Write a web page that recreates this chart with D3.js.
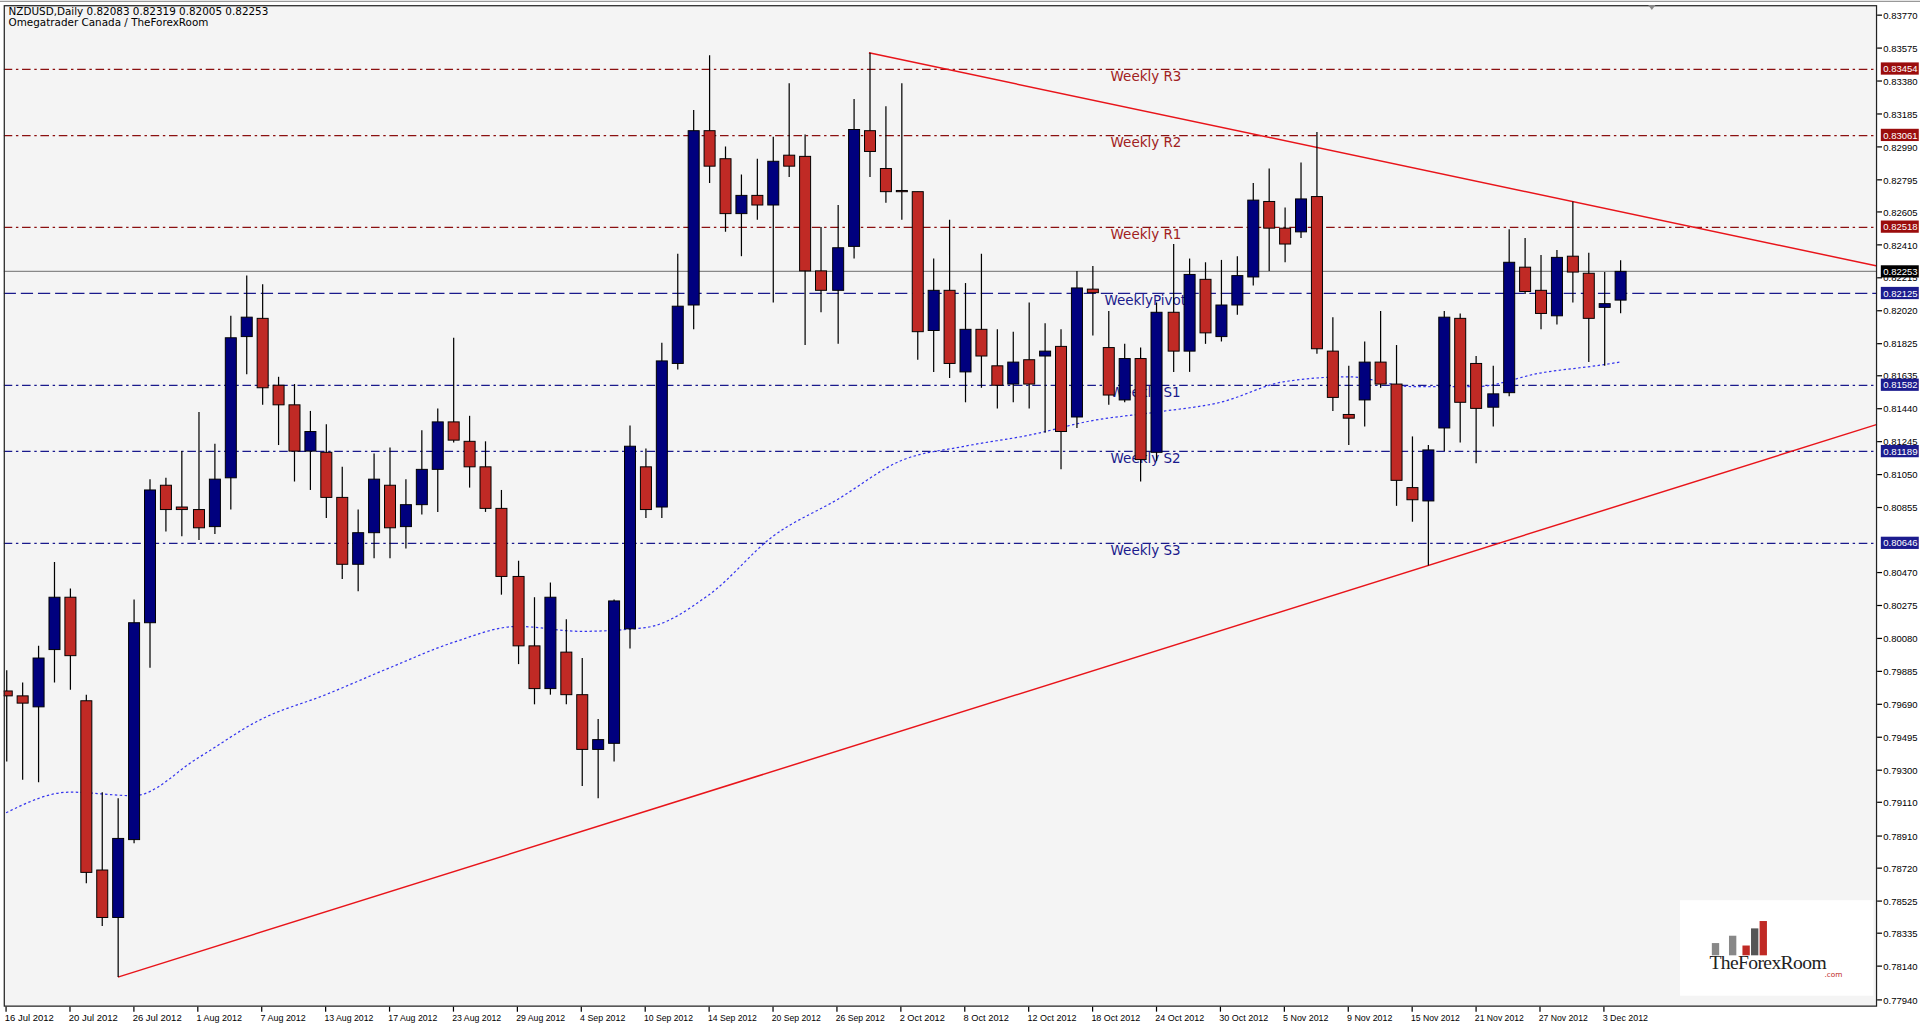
<!DOCTYPE html>
<html><head><meta charset="utf-8">
<script src="https://cdn.jsdelivr.net/npm/d3@7"></script>
<style>html,body{margin:0;padding:0;background:#fff;overflow:hidden}</style>
</head><body>
<svg id="c" width="1920" height="1029" viewBox="0 0 1568 840"></svg>
<script>
// Daily bars, 16 Jul 2012 (index 0) to 4 Dec 2012, prices in pips (x 1e-5)
const opens  = [79769,79740,79675,80014,80324,79711,78709,78428,78889,80173,80987,80858,80843,80742,81031,81867,81975,81579,81463,81189,81182,80915,80519,80706,80987,80742,80872,81081,81362,81247,81096,80850,80447,80036,79783,79999,79747,79423,79459,80137,81096,80858,81708,82054,83086,82920,82595,82703,82646,82941,82934,82256,82141,82401,83086,82862,82732,82725,81903,82141,81658,81910,81694,81586,81730,81752,81809,81391,82148,81802,81492,81737,81182,82011,81781,82206,81867,82054,82220,82667,82509,82487,82696,81781,81406,81492,81716,81586,80973,80894,81326,81975,81708,81449,81535,82278,82141,81990,82343,82242,82040,82083];
const highs  = [79892,79819,80036,80533,80375,79747,79170,79134,80310,81023,81031,81189,81420,81233,81990,82228,82177,81629,81586,81427,81348,81096,80843,81175,81211,81023,81312,81442,81860,81398,81247,80959,80540,80324,80411,80194,79964,79603,80310,81341,81204,81831,82357,83208,83533,82992,82826,82920,83050,83367,83064,82516,82646,83273,83547,83230,83367,82725,82329,82559,82184,82357,81910,81896,82069,81946,81910,82256,82285,82018,81824,81802,82069,82415,82329,82307,82321,82343,82776,82862,82631,82898,83078,81982,81694,81838,82018,81817,81276,81225,82018,82004,81752,81694,82502,82451,82350,82379,82667,82364,82249,82319];
const lows   = [79351,79243,79228,79819,79776,78630,78377,78075,78868,79906,80713,80685,80663,80699,80843,81644,81463,81225,81009,80959,80793,80432,80360,80555,80555,80612,80814,80829,81240,80973,80829,80339,79928,79690,79747,79690,79207,79134,79351,80021,80793,80793,81672,81910,82776,82487,82343,82559,82069,82812,81817,82011,81824,82329,82812,82660,82559,81730,81658,81622,81478,81564,81442,81478,81442,81297,81081,81326,81874,81463,81478,81009,81132,81658,81658,81824,81838,81997,82170,82256,82307,82451,81766,81427,81225,81334,81564,80865,80771,80512,81189,81240,81117,81334,81514,82119,81910,81939,82069,81716,81694,82005];
const closes = [79740,79697,79964,80324,79978,78695,78428,78896,80173,80959,80843,80843,80735,81023,81860,81982,81564,81463,81189,81305,80915,80519,80706,81023,80735,80872,81081,81362,81254,81096,80850,80447,80036,79783,80324,79747,79423,79481,80302,81218,80843,81723,82047,83086,82876,82595,82703,82646,82905,82876,82256,82141,82393,83093,82963,82725,82725,81896,82141,81708,81910,81752,81579,81716,81586,81781,81305,82155,82127,81521,81737,81139,82011,81781,82235,81889,82054,82228,82675,82509,82415,82682,81795,81507,81384,81716,81586,81016,80901,81196,81982,81478,81442,81528,82307,82134,82004,82336,82249,81975,82062,82253];
// moving average, read every 4th bar
const maIndex = [0,4,8,12,16,20,24,28,32,36,40,44,48,52,56,60,64,68,72,76,80,84,88,92,96,100,101];
const maValue = [79048,79170,79149,79372,79603,79747,79906,80057,80151,80122,80144,80339,80685,80901,81132,81218,81283,81370,81420,81478,81600,81629,81571,81571,81651,81701,81716];
// date labels every 4 bars
const dateLabels = ["16 Jul 2012","20 Jul 2012","26 Jul 2012","1 Aug 2012","7 Aug 2012","13 Aug 2012","17 Aug 2012","23 Aug 2012","29 Aug 2012","4 Sep 2012","10 Sep 2012","14 Sep 2012","20 Sep 2012","26 Sep 2012","2 Oct 2012","8 Oct 2012","12 Oct 2012","18 Oct 2012","24 Oct 2012","30 Oct 2012","5 Nov 2012","9 Nov 2012","15 Nov 2012","21 Nov 2012","27 Nov 2012","3 Dec 2012"];
const priceTicks = [0.83770,0.83575,0.83380,0.83185,0.82990,0.82795,0.82605,0.82410,0.82215,0.82020,0.81825,0.81635,0.81440,0.81245,0.81050,0.80855,0.80470,0.80275,0.80080,0.79885,0.79690,0.79495,0.79300,0.79110,0.78910,0.78720,0.78525,0.78335,0.78140,0.77940];
const levelNames  = ["Weekly R3","Weekly R2","Weekly R1","WeeklyPivot","Weekly S1","Weekly S2","Weekly S3"];
const levelValues = [0.83454,0.83061,0.82518,0.82125,0.81582,0.81189,0.80646];
const lastClose = 0.82253;
// trendlines: [barIndex, price] anchor pairs
const upperTrend = [[54,0.83547],[98,0.82667]];
const lowerTrend = [[7,0.78075],[89,0.80512]];

const svg = d3.select("#c");
const L=3, R=1533, T=4, B=822;
const x = d3.scaleLinear().domain([-0.15,117.1]).range([L,R]);
const y = d3.scaleLinear().domain([0.77914,0.83770]).range([820,12.2]);
const p = v=>v/1e5;
const font = "Tahoma, 'DejaVu Sans', sans-serif";
const afont = "'Liberation Sans', Arial, sans-serif";

svg.append("rect").attr("width",1568).attr("height",840).attr("fill","#fff");
svg.append("rect").attr("x",L).attr("y",T).attr("width",R-L).attr("height",B-T).attr("fill","#f4f4f4");
svg.append("clipPath").attr("id","cp").append("rect").attr("x",L).attr("y",T).attr("width",R-L).attr("height",B-T);
const g = svg.append("g").attr("clip-path","url(#cp)");

levelValues.forEach((v,i)=>{
  const res = i<3, piv = i===3;
  g.append("line").attr("x1",L).attr("x2",R).attr("y1",Math.round(y(v))+0.5).attr("y2",Math.round(y(v))+0.5)
   .attr("stroke",res?"#8b1010":"#1a1a8c").attr("stroke-width",1)
   .attr("stroke-dasharray",piv?"10,4":"7,3,2,3");
  g.append("text").attr("x",piv?902:907).attr("y",y(v)+10).text(levelNames[i])
   .attr("font-family",font).attr("font-size",11).attr("fill",res?"#a02020":"#1a1a8c");
});
g.append("line").attr("x1",L).attr("x2",R).attr("y1",Math.round(y(lastClose))+0.5).attr("y2",Math.round(y(lastClose))+0.5).attr("stroke","#888").attr("stroke-width",1);

g.append("path").datum(maIndex.map((d,i)=>[d,maValue[i]]))
 .attr("d",d3.line().x(d=>x(d[0])).y(d=>y(p(d[1]))).curve(d3.curveMonotoneX))
 .attr("fill","none").attr("stroke","#3333ee").attr("stroke-width",1).attr("stroke-dasharray","2,2");

function trend(pts,x0,x1){
  const [[a,pa],[b,pb]]=pts; const s=(pb-pa)/(b-a);
  return [[x0,pa+s*(x0-a)],[x1,pa+s*(x1-a)]];
}
[[upperTrend,54],[lowerTrend,7]].forEach(([t,s])=>{
  const seg=trend(t,s,117.1);
  g.append("line").attr("x1",x(seg[0][0])).attr("y1",y(seg[0][1])).attr("x2",x(seg[1][0])).attr("y2",y(seg[1][1]))
   .attr("stroke","#e8141a").attr("stroke-width",1.2);
});

const bw=9;
opens.forEach((o,i)=>{
  const h=highs[i],l=lows[i],c=closes[i],cx=Math.round(x(i))+0.5;
  g.append("line").attr("x1",cx).attr("x2",cx).attr("y1",y(p(h))).attr("y2",y(p(l))).attr("stroke","#000").attr("stroke-width",1);
  const top=y(p(Math.max(o,c))), bot=y(p(Math.min(o,c)));
  g.append("rect").attr("x",cx-bw/2).attr("y",top).attr("width",bw).attr("height",Math.max(1,bot-top))
   .attr("fill",c>=o?"#00007e":"#c02a25").attr("stroke","#000").attr("stroke-width",0.8);
});

svg.append("text").attr("x",7).attr("y",12).text("NZDUSD,Daily  0.82083 0.82319 0.82005 0.82253").attr("font-family",font).attr("font-size",8.5).attr("fill","#000");
svg.append("text").attr("x",7).attr("y",21).text("Omegatrader Canada / TheForexRoom").attr("font-family",font).attr("font-size",8.5).attr("fill","#000");

svg.append("rect").attr("x",L+0.5).attr("y",T+0.5).attr("width",R-L-1).attr("height",B-T-1).attr("fill","none").attr("stroke","#222").attr("stroke-width",1);
svg.append("line").attr("x1",0).attr("x2",1568).attr("y1",1).attr("y2",1).attr("stroke","#999");
svg.append("path").attr("d","M1346,4 L1352,4 L1349,8 Z").attr("fill","#888");

const ax = svg.append("g");
priceTicks.forEach(v=>{
  ax.append("line").attr("x1",R).attr("x2",R+4).attr("y1",y(v)).attr("y2",y(v)).attr("stroke","#000");
  ax.append("text").attr("x",R+5).attr("y",y(v)+3).text(v.toFixed(5)).attr("font-family",afont).attr("font-size",8)
    .attr("textLength",28).attr("lengthAdjust","spacingAndGlyphs").attr("fill","#000");
});
levelValues.concat([lastClose]).forEach((v,i)=>{
  const col = i<3?"#9b0d0d":(i<7?"#1c1c8e":"#000");
  ax.append("rect").attr("x",R+3).attr("y",y(v)-5).attr("width",31).attr("height",10).attr("fill",col);
  ax.append("text").attr("x",R+5).attr("y",y(v)+3).text(v.toFixed(5)).attr("font-family",afont).attr("font-size",8)
    .attr("textLength",28).attr("lengthAdjust","spacingAndGlyphs").attr("fill","#fff");
});

dateLabels.forEach((d,k)=>{
  const xi=x(k*4);
  svg.append("line").attr("x1",xi).attr("x2",xi).attr("y1",B).attr("y2",B+4).attr("stroke","#000");
  svg.append("text").attr("x",xi-1).attr("y",B+12).text(d).attr("font-family",afont).attr("font-size",8)
    .attr("textLength",d.length>10?40:37).attr("lengthAdjust","spacingAndGlyphs").attr("fill","#000");
});

const lg=svg.append("g");
lg.append("rect").attr("x",1372).attr("y",735).attr("width",158).attr("height",78).attr("fill","#fff");
[[1398,770,10,"#888"],[1412,764,16,"#888"],[1423,772,8,"#c02a25"],[1430,758,22,"#555"],[1437,752,28,"#c02a25"]].forEach(b=>{
  lg.append("rect").attr("x",b[0]).attr("y",b[1]).attr("width",6).attr("height",b[2]).attr("fill",b[3]);
});
lg.append("text").attr("x",1396).attr("y",791).text("TheForexRoom").attr("font-family","'Liberation Serif', serif").attr("font-size",16).attr("fill","#222").attr("letter-spacing",-0.5);
lg.append("text").attr("x",1490).attr("y",798).text(".com").attr("font-family",font).attr("font-size",6).attr("fill","#c02a25");
</script>
</body></html>
